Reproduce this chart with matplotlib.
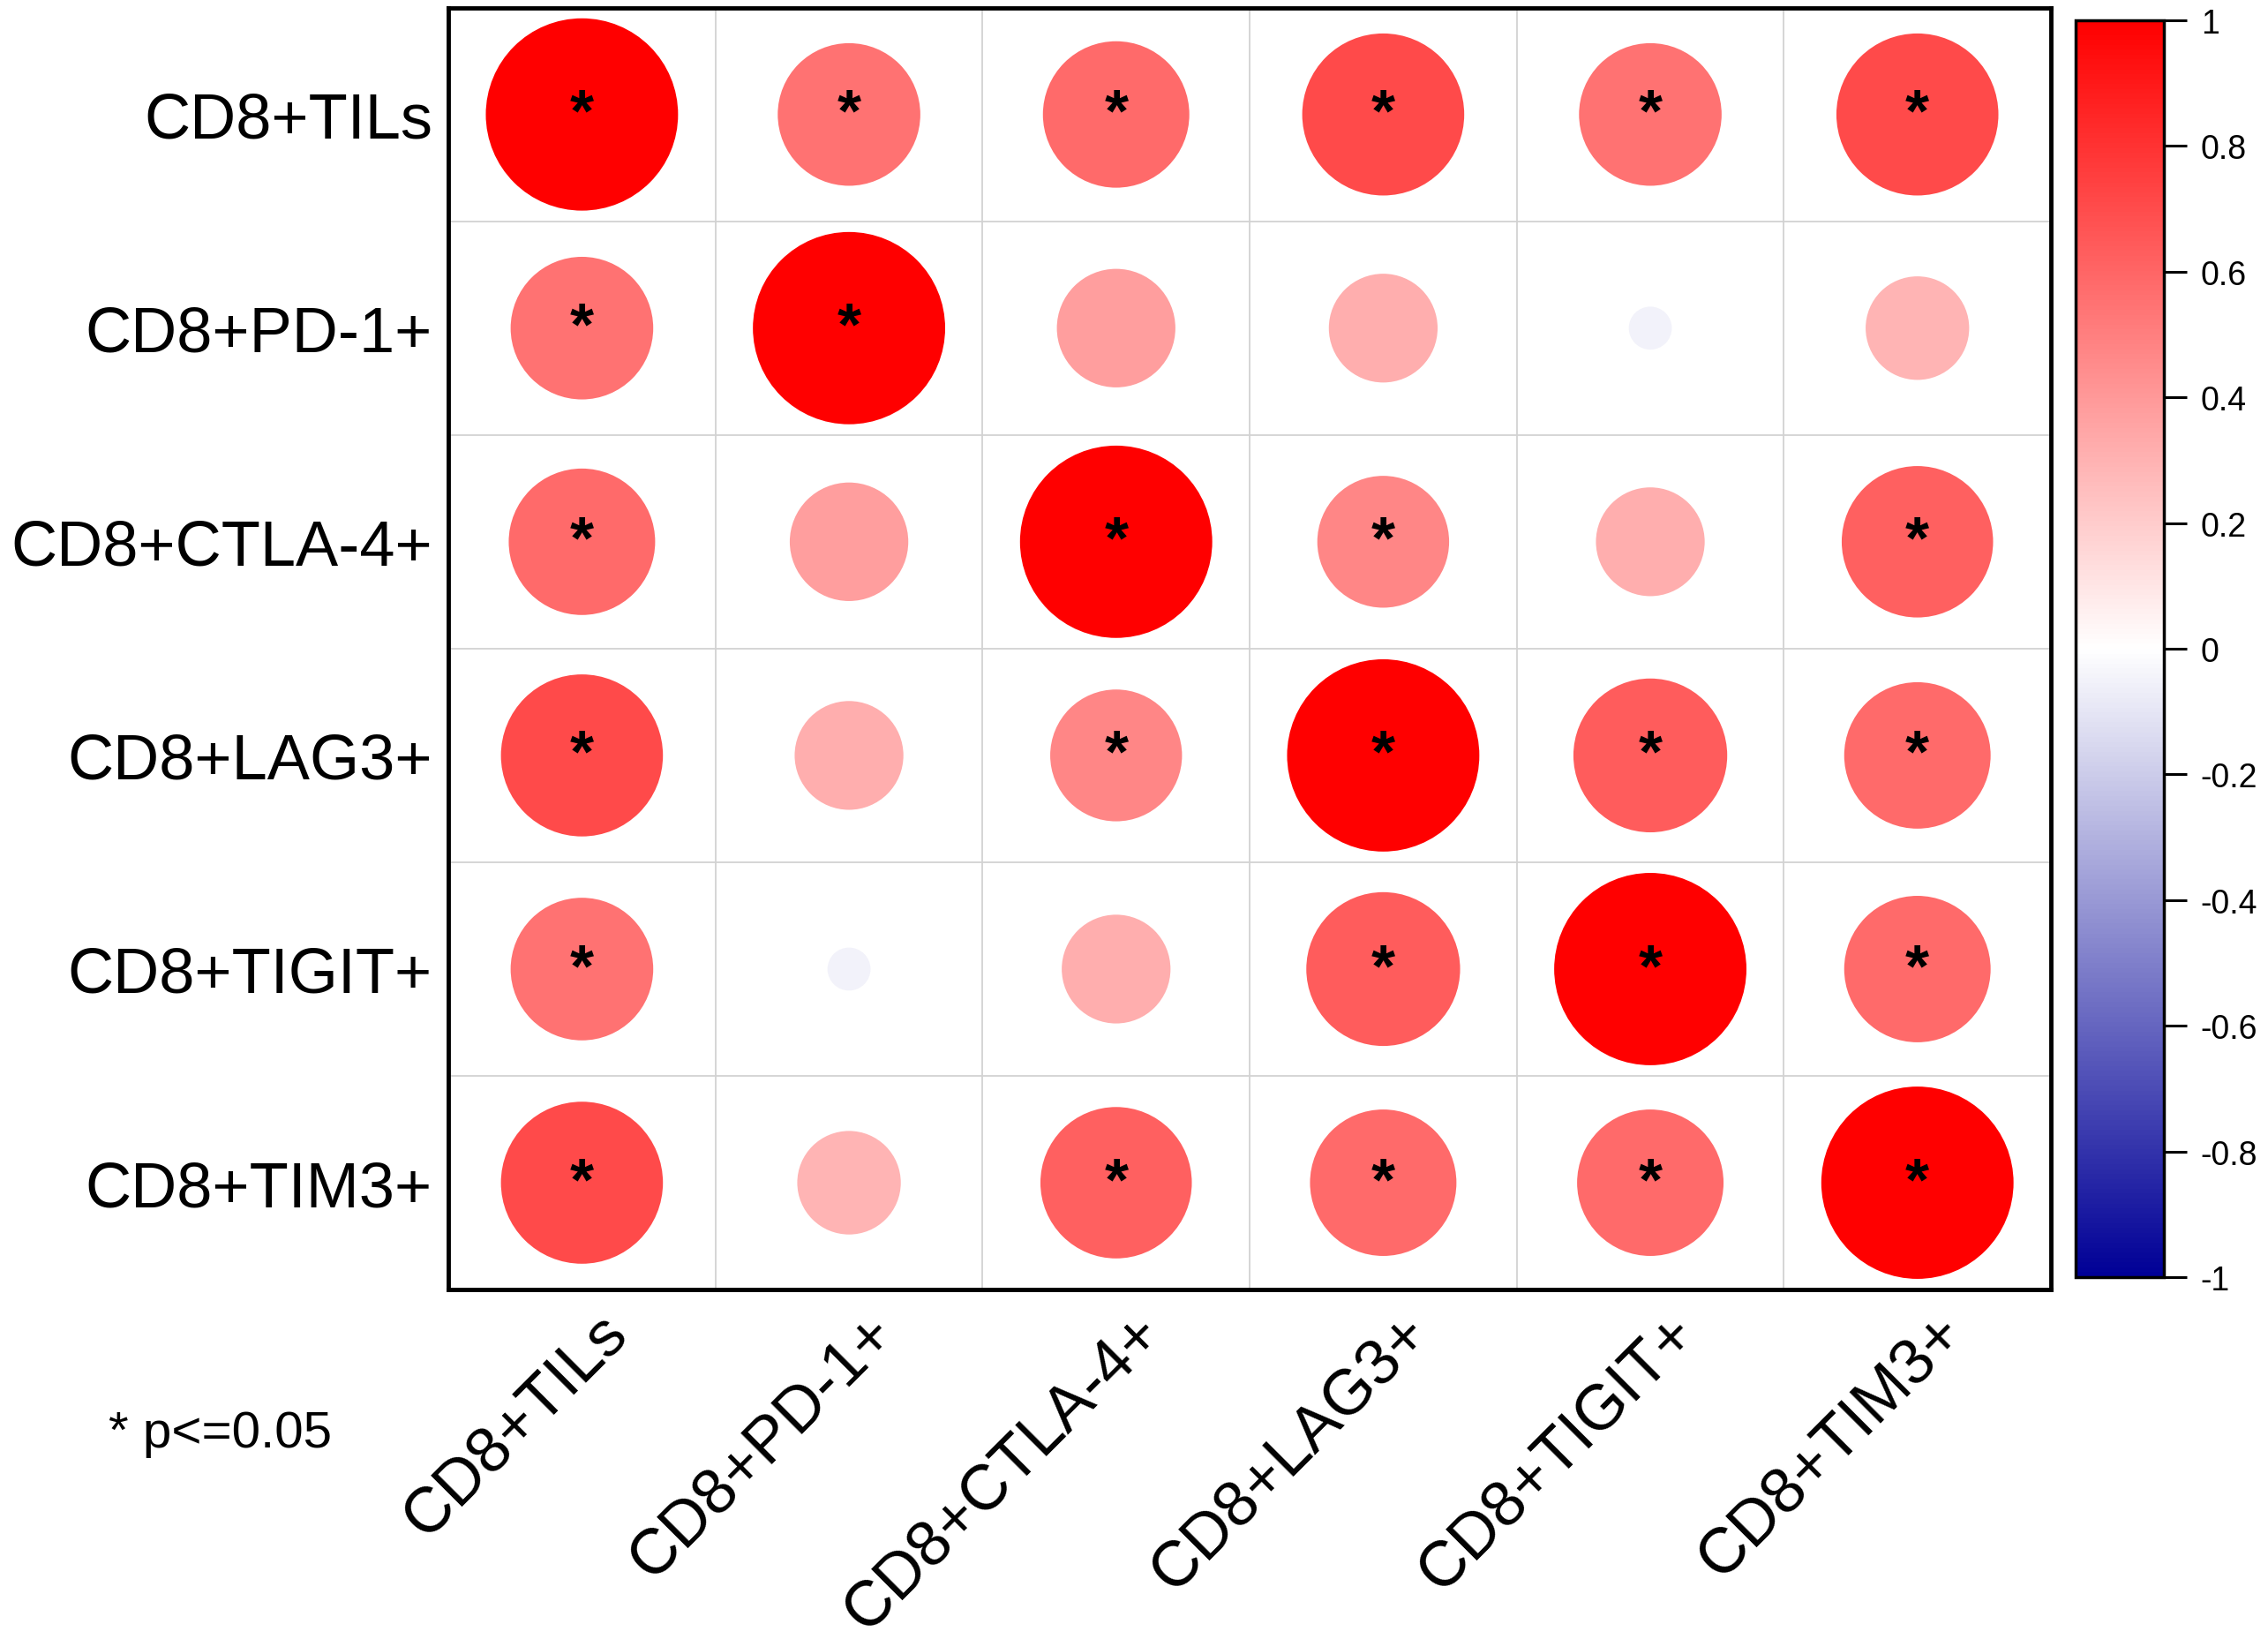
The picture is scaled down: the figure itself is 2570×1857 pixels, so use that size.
import numpy as np
import matplotlib
matplotlib.use("Agg")
import matplotlib.pyplot as plt
from matplotlib import transforms
from matplotlib.colors import LinearSegmentedColormap, Normalize
from matplotlib.cm import ScalarMappable


# ============================================================
# DATA
# ============================================================
LABELS = ["CD8+TILs", "CD8+PD-1+", "CD8+CTLA-4+", "CD8+LAG3+", "CD8+TIGIT+", "CD8+TIM3+"]

R_TILS  = [1.00, 0.55, 0.58, 0.71, 0.55, 0.71]
R_PD1   = [0.55, 1.00, 0.38, 0.32, -0.05, 0.29]
R_CTLA4 = [0.58, 0.38, 1.00, 0.47, 0.32, 0.62]
R_LAG3  = [0.71, 0.32, 0.47, 1.00, 0.64, 0.58]
R_TIGIT = [0.55, -0.05, 0.32, 0.64, 1.00, 0.58]
R_TIM3  = [0.71, 0.29, 0.62, 0.58, 0.58, 1.00]

# 1 = p<=0.05
SIG_TILS  = [1, 1, 1, 1, 1, 1]
SIG_PD1   = [1, 1, 0, 0, 0, 0]
SIG_CTLA4 = [1, 0, 1, 1, 0, 1]
SIG_LAG3  = [1, 0, 1, 1, 1, 1]
SIG_TIGIT = [1, 0, 0, 1, 1, 1]
SIG_TIM3  = [1, 0, 1, 1, 1, 1]

CBAR_TICKS = [1, 0.8, 0.6, 0.4, 0.2, 0, -0.2, -0.4, -0.6, -0.8, -1]
CBAR_TICKLABELS = ["1", "0.8", "0.6", "0.4", "0.2", "0", "-0.2", "-0.4", "-0.6", "-0.8", "-1"]

NOTE = "* p<=0.05"

# ============================================================
# STYLE
# ============================================================
FONT = "Liberation Sans"
DPI = 100
FIGSIZE = (25.70, 18.58)
MAX_DIAM_FRAC = 0.90   # diameter of |r|=1 circle relative to cell height
GRID_COLOR = "#d2d2d2"


def main():
    plt.rcParams["font.family"] = [FONT, "DejaVu Sans"]
    plt.rcParams["axes.unicode_minus"] = False

    corr = np.array([R_TILS, R_PD1, R_CTLA4, R_LAG3, R_TIGIT, R_TIM3])
    sig = np.array([SIG_TILS, SIG_PD1, SIG_CTLA4, SIG_LAG3, SIG_TIGIT, SIG_TIM3])
    n = len(LABELS)

    cmap = LinearSegmentedColormap.from_list(
        "bwr_corr", ["#000096", "#ffffff", "#ff0000"], N=256
    )
    norm = Normalize(vmin=-1, vmax=1)

    fig = plt.figure(figsize=FIGSIZE, dpi=DPI)
    ax = fig.add_axes([0.1977, 0.2131, 0.7066, 0.7817])
    cax = fig.add_axes([0.9152, 0.2207, 0.0389, 0.7664])

    ax.set_xlim(0, n)
    ax.set_ylim(n, 0)

    # cell grid
    for k in range(1, n):
        ax.axhline(k, color=GRID_COLOR, lw=1.3, zorder=0)
        ax.axvline(k, color=GRID_COLOR, lw=1.3, zorder=0)

    # circles: area proportional to |r|
    cell_h_pt = ax.get_position().height * FIGSIZE[1] * 72.0 / n
    max_d = MAX_DIAM_FRAC * cell_h_pt

    cols, rows = np.meshgrid(np.arange(n), np.arange(n))
    xs = cols.ravel() + 0.5
    ys = rows.ravel() + 0.5
    vals = corr.ravel()
    sizes = (max_d * np.sqrt(np.abs(vals))) ** 2

    ax.scatter(xs, ys, s=sizes, c=vals, cmap=cmap, norm=norm,
               linewidths=0, zorder=2)

    # significance stars
    for x, y, s in zip(xs, ys, sig.ravel()):
        if s:
            ax.text(x, y, "*", ha="center", va="center", fontsize=50,
                    fontweight="bold", color="black", zorder=3)

    # axes frame
    for sp in ax.spines.values():
        sp.set_linewidth(3.5)
        sp.set_color("black")

    # y labels
    centers = np.arange(n) + 0.5
    ax.set_yticks(centers)
    ax.set_yticklabels(LABELS, fontsize=52)
    ax.tick_params(axis="y", length=0, pad=13)
    ax.set_xticks([])

    # x labels, rotated 45 degrees
    base = transforms.blended_transform_factory(ax.transData, ax.transAxes)
    offset = transforms.ScaledTranslation(54 / DPI, -51 / DPI, fig.dpi_scale_trans)
    for x, lab in zip(centers, LABELS):
        ax.text(x, 0, lab, transform=base + offset, rotation=45,
                rotation_mode="anchor", ha="right", va="baseline",
                fontsize=52, clip_on=False)

    # note
    fig.text(123 / 2570, 1 - 1640 / 1858, NOTE, fontsize=42,
             ha="left", va="baseline")

    # colorbar
    sm = ScalarMappable(norm=norm, cmap=cmap)
    cb = fig.colorbar(sm, cax=cax, ticks=CBAR_TICKS)
    cb.ax.set_yticklabels(CBAR_TICKLABELS)
    cb.outline.set_linewidth(2.5)
    cb.ax.tick_params(length=19, width=2.2, pad=11, labelsize=27)

    fig.savefig("out.png", dpi=DPI)
    plt.close(fig)


if __name__ == "__main__":
    main()
